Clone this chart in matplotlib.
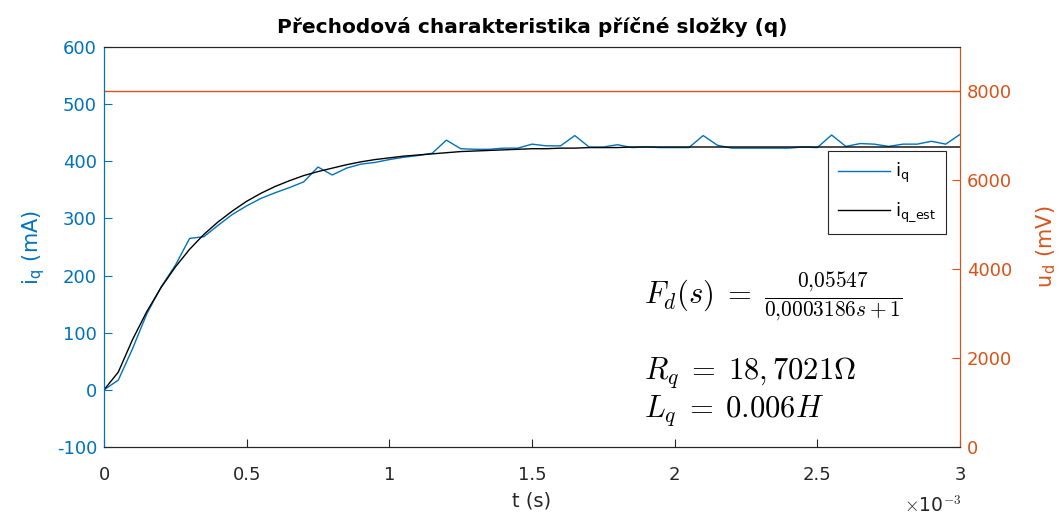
import numpy as np
import matplotlib
matplotlib.use("Agg")
import matplotlib.pyplot as plt

plt.rcParams['font.family'] = ['DejaVu Sans']
plt.rcParams['mathtext.fontset'] = 'cm'
plt.rcParams['axes.unicode_minus'] = False

BLUE = '#0072BD'
ORANGE = '#D95319'
DARK = '#262626'

# sample times (s), 0.05 ms step
t = np.round(np.arange(0, 3.0001, 0.05), 2) * 1e-3

# measured current i_q (mA)
iq = [0, 17, 72, 133, 180, 218, 265, 268, 288, 307,
      322, 335, 345, 354, 364, 390, 376, 388, 395, 398,
      403, 407, 410, 414, 437, 422, 421, 421, 423, 423,
      430, 427, 427, 445, 425, 425, 429, 424, 425, 424,
      424, 424, 445, 428, 423, 423, 423, 423, 423, 425,
      424, 446, 426, 431, 430, 426, 430, 430, 435, 430,
      447]

# estimated first-order response (mA)
iq_est = [0, 31, 88, 137, 179, 215, 246, 272, 294, 313,
          330, 344, 356, 366, 375, 382, 388, 394, 399, 403,
          406, 409, 411, 413, 415, 417, 418, 419, 420, 421,
          422, 422, 423, 423, 424, 424, 424, 425, 425, 425,
          425, 425, 425, 425, 425, 425, 425, 425, 425, 425,
          425, 425, 425, 425, 425, 425, 425, 425, 425, 425,
          425]

# applied voltage step u_d (mV)
ud = [8000] * len(t)

xticks = [0, 0.5e-3, 1e-3, 1.5e-3, 2e-3, 2.5e-3, 3e-3]
xticklabels = ['0', '0.5', '1', '1.5', '2', '2.5', '3']

fig = plt.figure(figsize=(10.62, 5.17), dpi=100)
ax = fig.add_axes([104/1062, 70/517, 856/1062, 400/517])
ax2 = ax.twinx()

l1, = ax.plot(t, iq, color=BLUE, lw=1.0, label=r'i$_\mathregular{q}$')
l2, = ax.plot(t, iq_est, color='black', lw=1.0, label=r'i$_\mathregular{q\_est}$')
ax2.plot(t, ud, color=ORANGE, lw=1.0)

ax.set_xlim(0, 3e-3)
ax.set_ylim(-100, 600)
ax2.set_ylim(0, 9000)
ax.set_xticks(xticks)
ax.set_xticklabels(xticklabels)
ax.set_yticks(range(-100, 601, 100))
ax2.set_yticks(range(0, 8001, 2000))

ax.tick_params(axis='x', direction='in', length=6, width=0.8, colors=DARK,
               labelsize=13, pad=14)
ax.tick_params(axis='y', direction='in', length=6, width=0.8, colors=BLUE,
               labelsize=13, pad=5)
ax2.tick_params(axis='y', direction='in', length=6, width=0.8, colors=ORANGE,
                labelsize=13, pad=5)

for a in (ax, ax2):
    a.spines['top'].set_color(DARK)
    a.spines['bottom'].set_color(DARK)
    a.spines['left'].set_color(BLUE)
    a.spines['right'].set_color(ORANGE)
    for s in a.spines.values():
        s.set_linewidth(0.8)

ax.set_xlabel('t (s)', fontsize=14, color=DARK, labelpad=5)
ax.set_ylabel(r'i$_\mathregular{q}$ (mA)', fontsize=15, color=BLUE, labelpad=7)
ax2.set_ylabel(r'u$_\mathregular{d}$ (mV)', fontsize=15, color=ORANGE, labelpad=16)
ax.set_title('Přechodová charakteristika příčné složky (q)', fontsize=14.5,
             fontweight='bold', pad=10)

fig.text(961/1062, 1 - 516/517, r'$\times$10$^{-3}$', fontsize=13.5, color=DARK,
         va='bottom', ha='right')

leg = ax2.legend(handles=[l1, l2], loc='upper left',
                 bbox_to_anchor=(828/1062, 1 - 151/517),
                 bbox_transform=fig.transFigure, fontsize=13,
                 frameon=True, fancybox=False, framealpha=1,
                 edgecolor=DARK, handlelength=2.9, borderpad=0.55,
                 labelspacing=0.85, handletextpad=0.25, borderaxespad=0)
leg.get_frame().set_linewidth(0.8)

fig.text(644/1062, 1 - 297/517,
         r'$F_d(s)\;=\;\frac{0{,}05547}{0{,}0003186s+1}$',
         fontsize=22, va='center', ha='left')
fig.text(644/1062, 1 - 373/517, r'$R_q\;=\;18,7021\Omega$',
         fontsize=22, va='center', ha='left')
fig.text(644/1062, 1 - 411/517, r'$L_q\;=\;0.006H$',
         fontsize=22, va='center', ha='left')

fig.savefig('out.png', dpi=100)
